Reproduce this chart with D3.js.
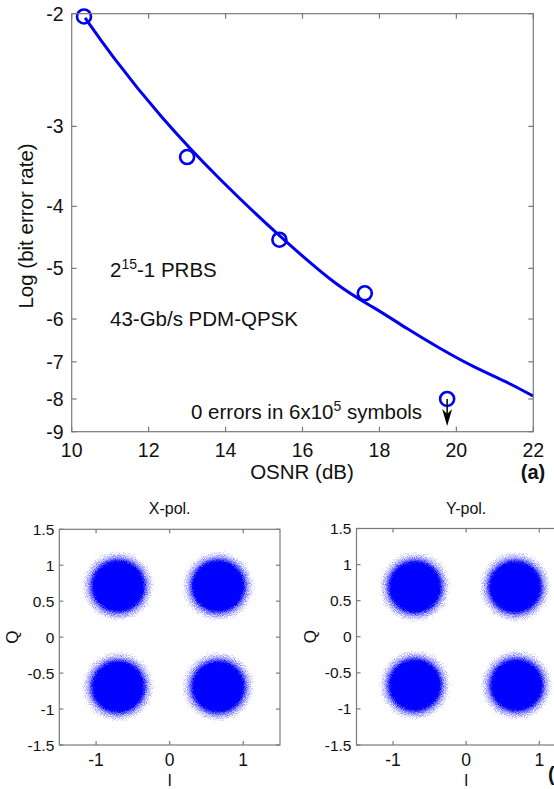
<!DOCTYPE html>
<html>
<head>
<meta charset="utf-8">
<script src="https://cdn.jsdelivr.net/npm/d3@7"></script>
<style>
  html, body { margin: 0; padding: 0; background: #fff; }
  svg { display: block; font-family: 'Liberation Sans', Arial, sans-serif; }
</style>
</head>
<body>
<div id="root"></div>
<script>
// measured BER points (OSNR dB, log10 BER)
const osnrMeasured = [10.32, 13.0, 15.4, 17.62, 19.76]
const berMeasured = [-2.02, -3.35, -4.51, -5.47, -8.0]

// fitted curve
const osnrFit = [10.35, 11.0, 12.3, 13.85, 15.41, 16.97, 17.84, 18.71, 19.57, 20.44, 21.31, 22.0]
const berFit = [-2.03, -2.31, -2.9, -3.64, -4.46, -5.38, -5.74, -6.21, -6.67, -7.13, -7.52, -7.92]

const osnrTicks = [10, 12, 14, 16, 18, 20, 22]
const berTicks = [-2, -3, -4, -5, -6, -7, -8, -9]

// constellation cluster centres (I, Q) for each polarisation
const xPolI = [-0.70, 0.66, -0.70, 0.66]
const xPolQ = [0.71, 0.71, -0.69, -0.69]
const yPolI = [-0.70, 0.67, -0.70, 0.69]
const yPolQ = [0.69, 0.69, -0.67, -0.67]
const noiseSpread = 0.56   // outer extent of each cloud, in symbol units

const iqTicksX = [-1, 0, 1]
const iqTicksY = [-1.5, -1, -0.5, 0, 0.5, 1, 1.5]

const W = 554, H = 789
const AXIS = '#7a7a7a'
const BLUE = '#0000f0'
const TXT = '#111'

const svg = d3.select('#root').append('svg')
  .attr('width', W)
  .attr('height', H)

const defs = svg.append('defs')

const grad = defs.append('radialGradient').attr('id', 'cloud')
grad.selectAll('stop')
  .data([[0, 1], [0.46, 1], [0.58, 0.85], [0.72, 0.5], [0.88, 0.3], [1, 0]])
  .join('stop')
    .attr('offset', d => d[0])
    .attr('stop-color', '#0000ff')
    .attr('stop-opacity', d => d[1])

// speckle texture for the cloud edges
const speckle = defs.append('filter').attr('id', 'speckle')
  .attr('x', '-20%').attr('y', '-20%').attr('width', '140%').attr('height', '140%')
speckle.append('feTurbulence')
  .attr('type', 'fractalNoise').attr('baseFrequency', 1.1).attr('numOctaves', 1).attr('seed', 7)
  .attr('result', 'noise')
speckle.append('feColorMatrix').attr('in', 'noise').attr('type', 'matrix')
  .attr('values', '0 0 0 0 0  0 0 0 0 0  0 0 0 0 0  1 0 0 0 0')
  .attr('result', 'na')
speckle.append('feComposite').attr('in', 'SourceGraphic').attr('in2', 'na')
  .attr('operator', 'arithmetic').attr('k1', 0).attr('k2', 2.2).attr('k3', 1).attr('k4', -1.25)
  .attr('result', 'mix')
speckle.append('feColorMatrix').attr('in', 'mix').attr('type', 'matrix')
  .attr('values', '0 0 0 0 0  0 0 0 0 0  0 0 0 0 1  0 0 0 1 0')

function boxAxes(g, x, y, opts) {
  // MATLAB style box: inward ticks on all four sides
  const [x0, x1] = x.range()
  const [y0, y1] = y.range()
  const tl = opts.tickLen
  g.append('rect')
    .attr('x', x0).attr('y', y1)
    .attr('width', x1 - x0).attr('height', y0 - y1)
    .attr('fill', 'none').attr('stroke', AXIS).attr('stroke-width', 1.2)

  const t = g.append('g').attr('stroke', AXIS).attr('stroke-width', 1.2)
  opts.xTicks.forEach(v => {
    t.append('line').attr('x1', x(v)).attr('x2', x(v)).attr('y1', y0).attr('y2', y0 - tl)
    t.append('line').attr('x1', x(v)).attr('x2', x(v)).attr('y1', y1).attr('y2', y1 + tl)
  })
  opts.yTicks.forEach(v => {
    t.append('line').attr('x1', x0).attr('x2', x0 + tl).attr('y1', y(v)).attr('y2', y(v))
    t.append('line').attr('x1', x1).attr('x2', x1 - tl).attr('y1', y(v)).attr('y2', y(v))
  })

  g.append('g')
    .selectAll('text')
    .data(opts.xTicks)
    .join('text')
      .attr('x', x)
      .attr('y', y0 + opts.xLabelDy)
      .attr('text-anchor', 'middle')
      .attr('font-size', opts.xFont)
      .attr('fill', TXT)
      .text(d => d)

  g.append('g')
    .selectAll('text')
    .data(opts.yTicks)
    .join('text')
      .attr('x', x0 - opts.yLabelDx)
      .attr('y', d => y(d) + opts.yFont * 0.36)
      .attr('text-anchor', 'end')
      .attr('font-size', opts.yFont)
      .attr('fill', TXT)
      .text(d => d)
}

// ---- (a) BER vs OSNR ----
const ber = {
  x: d3.scaleLinear().domain([10, 22]).range([71.7, 533.3]),
  // axis is log(-log BER)
  y: d3.scaleLog().domain([-9, -2]).range([431.7, 13.7]),
}

const panelA = svg.append('g').attr('class', 'ber')

panelA.append('path')
  .datum(d3.zip(osnrFit, berFit))
  .attr('d', d3.line()
    .x(d => ber.x(d[0]))
    .y(d => ber.y(d[1]))
    .curve(d3.curveBasis))
  .attr('fill', 'none')
  .attr('stroke', BLUE)
  .attr('stroke-width', 3)

panelA.selectAll('circle.pt')
  .data(d3.zip(osnrMeasured, berMeasured))
  .join('circle')
    .attr('class', 'pt')
    .attr('cx', d => ber.x(d[0]))
    .attr('cy', d => ber.y(d[1]))
    .attr('r', 7)
    .attr('fill', 'none')
    .attr('stroke', BLUE)
    .attr('stroke-width', 2.6)

boxAxes(panelA, ber.x, ber.y, {
  xTicks: osnrTicks, yTicks: berTicks, tickLen: 5,
  xFont: 19.5, yFont: 19.5, xLabelDy: 25, yLabelDx: 8,
})

// "0 errors" arrow below the last point
const last = [osnrMeasured[4], berMeasured[4]]
const ax = ber.x(last[0]), ay = ber.y(last[1])
panelA.append('line')
  .attr('x1', ax).attr('x2', ax).attr('y1', ay).attr('y2', ay + 18)
  .attr('stroke', '#000').attr('stroke-width', 1.5)
panelA.append('path')
  .attr('d', `M${ax - 5},${ay + 10} L${ax},${ay + 27} L${ax + 5},${ay + 10} L${ax},${ay + 15} Z`)
  .attr('fill', '#000')

panelA.append('text')
  .attr('x', 191).attr('y', 419)
  .attr('font-size', 20.5).attr('fill', TXT)
  .call(t => t.append('tspan').text('0 errors in 6x10'))
  .call(t => t.append('tspan').attr('dy', -8).attr('font-size', 14).text('5'))
  .call(t => t.append('tspan').attr('dy', 8).text(' symbols'))

panelA.append('text')
  .attr('x', 110).attr('y', 277)
  .attr('font-size', 20.5).attr('fill', TXT)
  .call(t => t.append('tspan').text('2'))
  .call(t => t.append('tspan').attr('dy', -8).attr('font-size', 14).text('15'))
  .call(t => t.append('tspan').attr('dy', 8).text('-1 PRBS'))

panelA.append('text')
  .attr('x', 110).attr('y', 326)
  .attr('font-size', 20.5).attr('fill', TXT)
  .text('43-Gb/s PDM-QPSK')

panelA.append('text')
  .attr('x', 302).attr('y', 479)
  .attr('text-anchor', 'middle')
  .attr('font-size', 20.5).attr('fill', TXT)
  .text('OSNR (dB)')

panelA.append('text')
  .attr('transform', 'translate(33,226) rotate(-90)')
  .attr('text-anchor', 'middle')
  .attr('font-size', 20.5).attr('fill', TXT)
  .text('Log (bit error rate)')

panelA.append('text')
  .attr('x', 533).attr('y', 479)
  .attr('text-anchor', 'middle')
  .attr('font-size', 20).attr('font-weight', 'bold').attr('fill', TXT)
  .text('(a)')

// ---- (b) constellations ----
function constellation(cfg) {
  const x = d3.scaleLinear().domain([-1.5, 1.5]).range([cfg.left, cfg.right])
  const y = d3.scaleLinear().domain([-1.5, 1.5]).range([745, cfg.top])
  const g = svg.append('g')
  const rx = Math.abs(x(noiseSpread) - x(0))
  const ry = Math.abs(y(noiseSpread) - y(0))

  g.append('g')
    .attr('filter', 'url(#speckle)')
    .selectAll('ellipse')
    .data(d3.zip(cfg.I, cfg.Q))
    .join('ellipse')
      .attr('cx', d => x(d[0]))
      .attr('cy', d => y(d[1]))
      .attr('rx', rx)
      .attr('ry', ry)
      .attr('fill', 'url(#cloud)')

  boxAxes(g, x, y, {
    xTicks: iqTicksX, yTicks: iqTicksY, tickLen: 4,
    xFont: 17.5, yFont: 15.5, xLabelDy: 21, yLabelDx: 5,
  })

  g.append('text')
    .attr('x', x(0)).attr('y', cfg.top - 15)
    .attr('text-anchor', 'middle')
    .attr('font-size', 16).attr('fill', TXT)
    .text(cfg.title)

  g.append('text')
    .attr('x', x(0)).attr('y', 785.5)
    .attr('text-anchor', 'middle')
    .attr('font-size', 16).attr('fill', TXT)
    .text('I')

  g.append('text')
    .attr('transform', `translate(${cfg.left - 41},${y(0)}) rotate(-90)`)
    .attr('text-anchor', 'middle')
    .attr('font-size', 17).attr('fill', TXT)
    .text('Q')
}

constellation({ title: 'X-pol.', I: xPolI, Q: xPolQ, left: 59.3, right: 280, top: 529.3 })
constellation({ title: 'Y-pol.', I: yPolI, Q: yPolQ, left: 356.5, right: 575.8, top: 528.5 })

svg.append('text')
  .attr('x', 548).attr('y', 781)
  .attr('font-size', 20).attr('font-weight', 'bold').attr('fill', TXT)
  .text('(b)')
</script>
</body>
</html>
